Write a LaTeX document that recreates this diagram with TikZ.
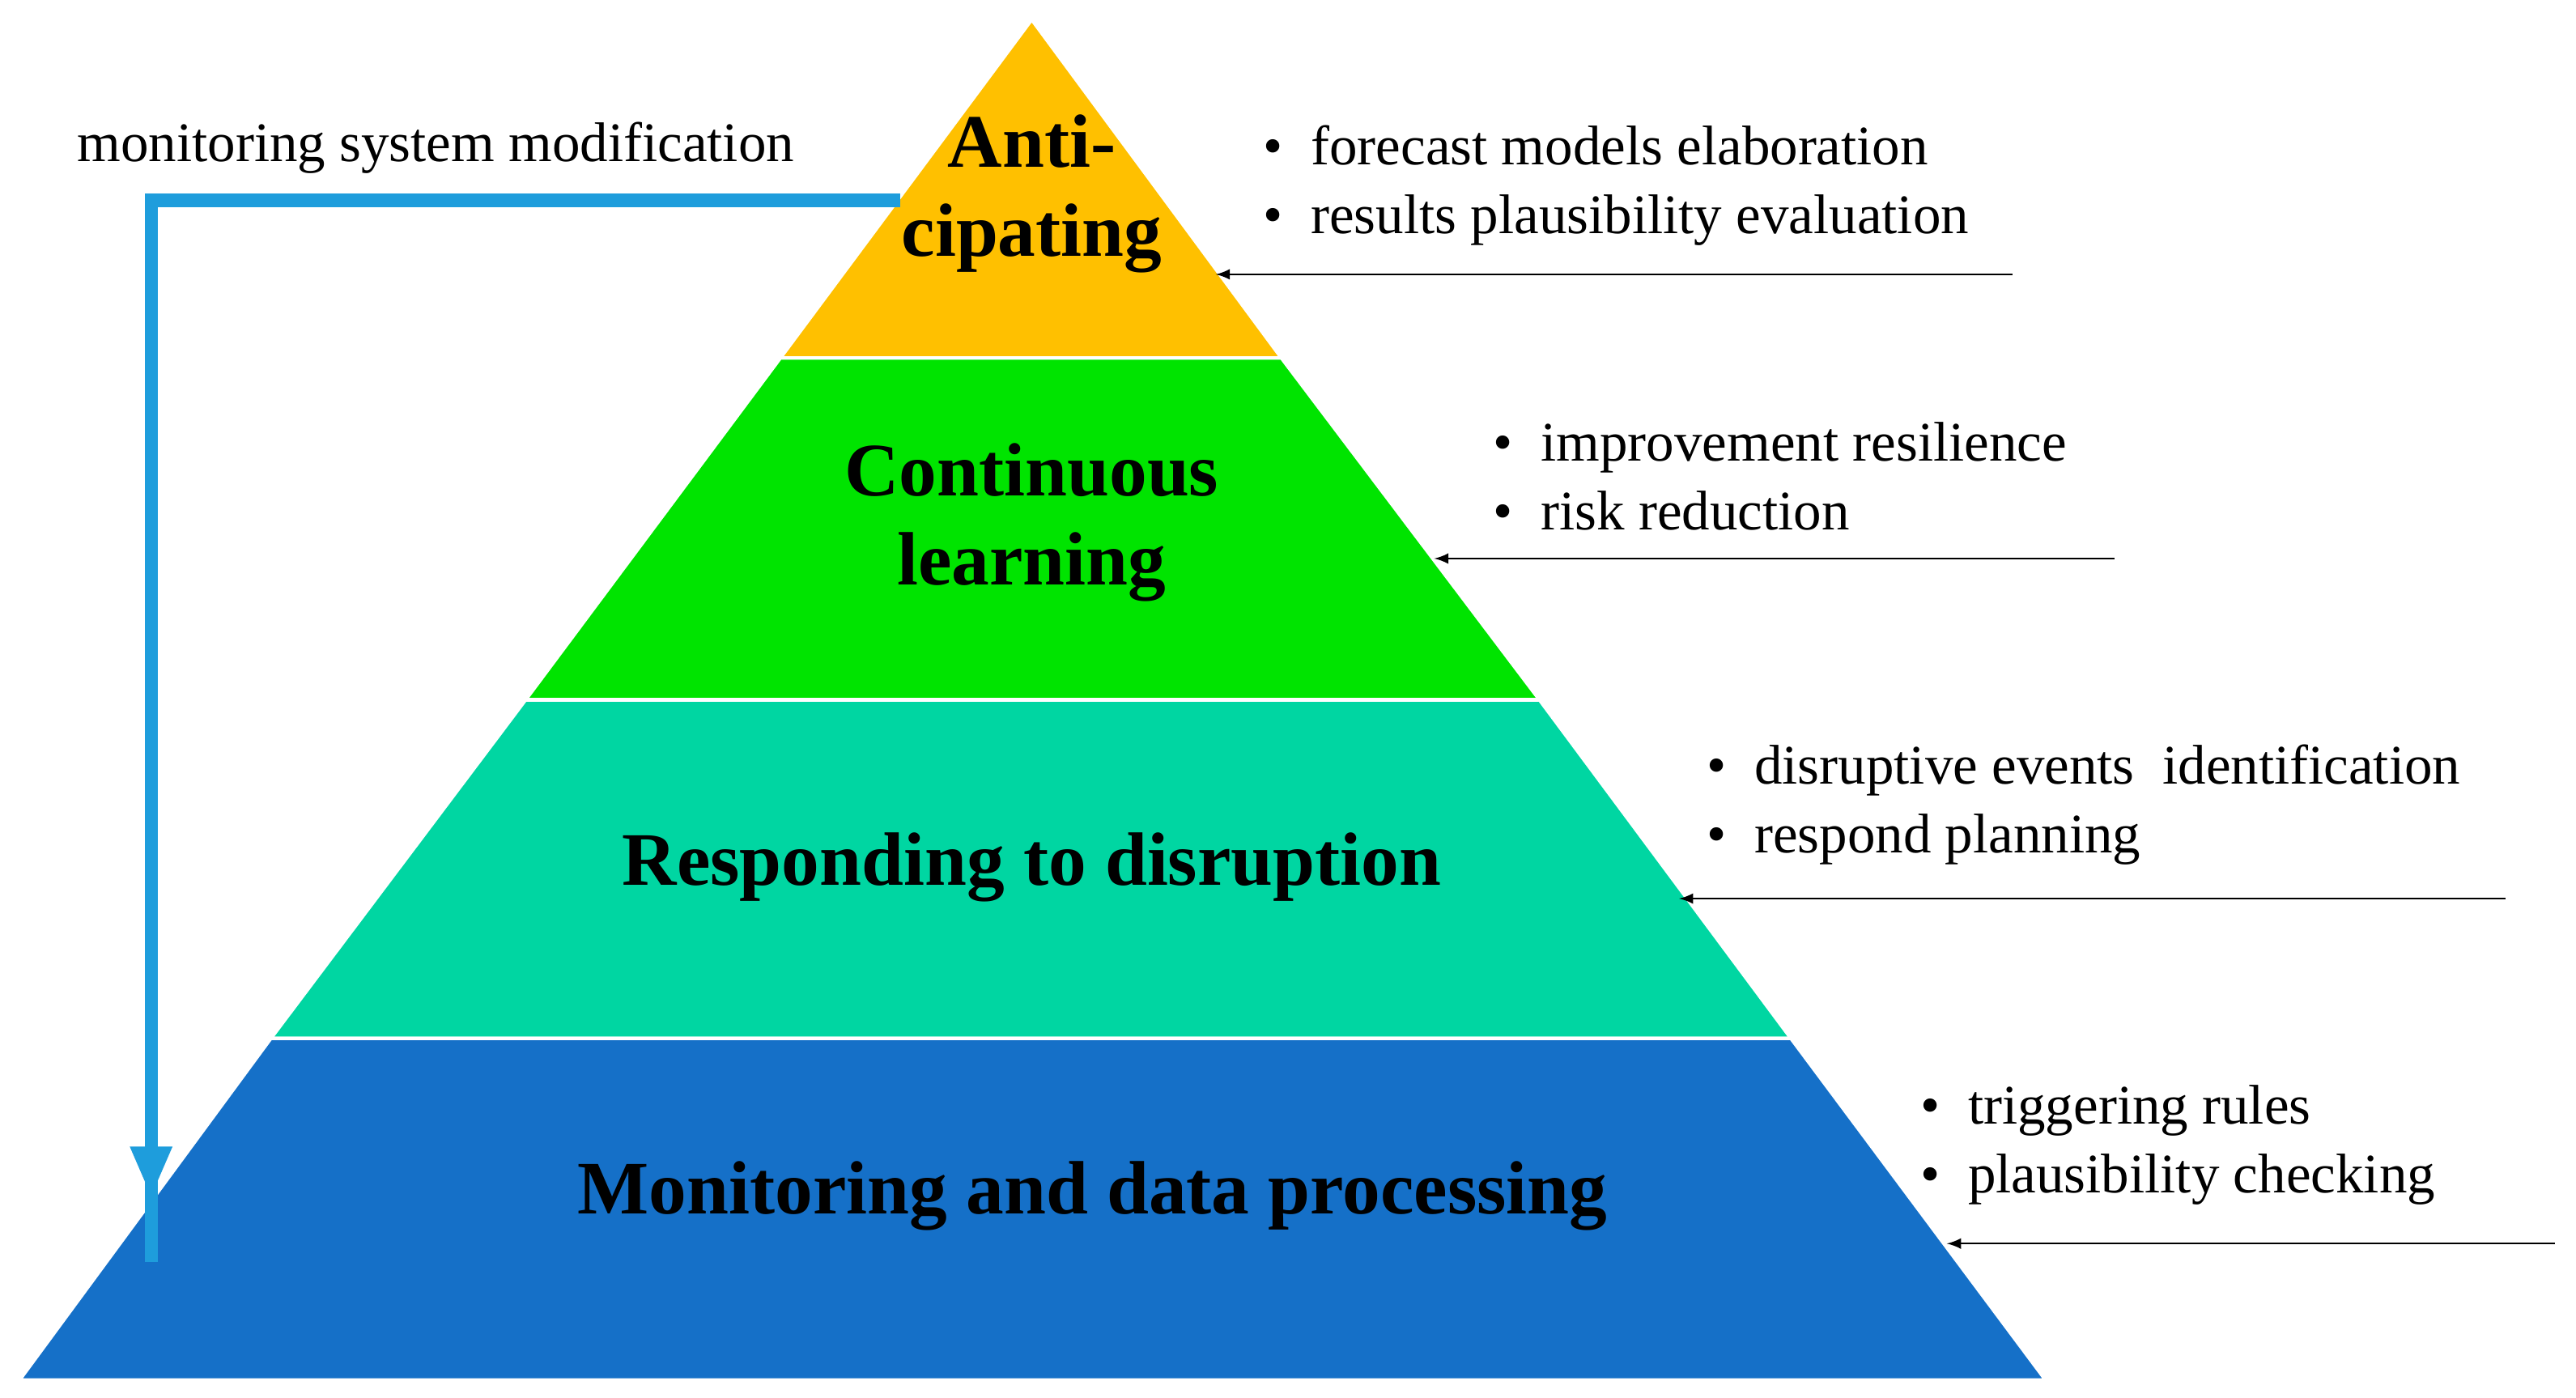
\documentclass[tikz,border=0pt]{standalone}
\usepackage{fontspec}
\setmainfont{Liberation Serif}
\begin{document}
\begin{tikzpicture}[x=0.5pt,y=-0.5pt,
 big/.style={font=\fontsize{23}{27}\selectfont\bfseries,align=center},
 sm/.style={font=\fontsize{17}{21}\selectfont,align=left,anchor=west},
 lay/.style={draw=white,line width=1pt},
 ptr/.style={-latex,line width=0.5pt}]
\useasboundingbox (0,0) rectangle (1568,851);
\definecolor{c1}{HTML}{FFC000}\definecolor{c2}{HTML}{00E400}
\definecolor{c3}{HTML}{00D6A2}\definecolor{c4}{HTML}{1570C8}
\definecolor{ab}{HTML}{1E9DDC}
\fill[lay,fill=c1] (628,12) -- (780,218) -- (475,218) -- cycle;
\fill[lay,fill=c2] (475,218) -- (780,218) -- (937,426) -- (320,426) -- cycle;
\fill[lay,fill=c3] (320,426) -- (937,426) -- (1090,632) -- (165,632) -- cycle;
\fill[lay,fill=c4] (165,632) -- (1090,632) -- (1245,840) -- (12,840) -- cycle;
\draw[white,line width=1pt] (475,218)--(780,218) (320,426)--(937,426) (165,632)--(1090,632);
\node[big] (t1) at (628,118) {Anti-\\cipating};
\node[big] (t2) at (628,318) {Continuous\\learning};
\node[big] (t3) at (628,528) {Responding to disruption};
\node[big] (t4) at (665,728) {Monitoring and data processing};
\node[sm,anchor=west] (ms) at (40,90) {monitoring system modification};
\coordinate (a0) at (548,122); \coordinate (a1) at (92,122); \coordinate (a2) at (92,728);
\draw[ab,line width=4pt] (a0) -- (a1) -- ([yshift=-20]a2);
\fill[ab] (a2) -- ++(-13,-30) -- ++(26,0) -- cycle;
\node[sm] (l1) at (762,113) {\textbullet\ \ forecast models elaboration\\\textbullet\ \ results plausibility evaluation};
\node[sm] (l2) at (902,290) {\textbullet\ \ improvement resilience\\\textbullet\ \ risk reduction};
\node[sm] (l3) at (1032,490) {\textbullet\ \ disruptive events\ \ identification\\\textbullet\ \ respond planning};
\node[sm] (l4) at (1162,697) {\textbullet\ \ triggering rules\\\textbullet\ \ plausibility checking};
\coordinate (s1) at (1225,167); \coordinate (e1) at (740,167);
\coordinate (s2) at (1287,340); \coordinate (e2) at (873,340);
\coordinate (s3) at (1525,547); \coordinate (e3) at (1022,547);
\coordinate (s4) at (1555,757); \coordinate (e4) at (1185,757);
\draw[ptr] (s1)--(e1); \draw[ptr] (s2)--(e2); \draw[ptr] (s3)--(e3); \draw[ptr] (s4)--(e4);
\end{tikzpicture}
\end{document}
